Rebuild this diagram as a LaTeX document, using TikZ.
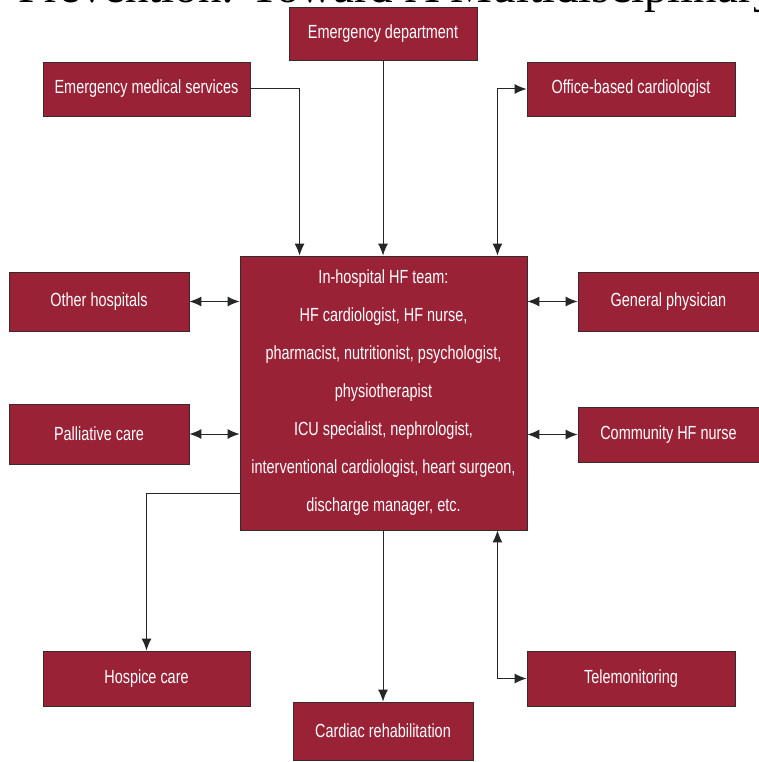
\documentclass[tikz,border=0pt]{standalone}
\usepackage{fontspec}
\setmainfont[FakeStretch=0.76]{Liberation Sans}
\newfontfamily\headfont{Liberation Serif}
\usetikzlibrary{arrows.meta}
\definecolor{hfred}{HTML}{9A2237}
\definecolor{boxedge}{HTML}{3A2A2C}
\tikzset{
  hfbox/.style={rectangle, fill=hfred, draw=boxedge, line width=0.9pt, text=white,
    inner sep=0pt, align=center, font=\fontsize{19}{22}\selectfont},
  conn/.style={line width=1pt, draw=black!85},
  tip/.style={-{Latex[length=12pt,width=10pt]}},
  both/.style={{Latex[length=12pt,width=10pt]}-{Latex[length=12pt,width=10pt]}}
}
\begin{document}
\begin{tikzpicture}[x=1pt,y=-1pt]
\useasboundingbox (0,0) rectangle (759,762);
\clip (0,0) rectangle (759,762);
\fill[white] (0,0) rectangle (759,762);
\node[anchor=base west, font=\headfont\fontsize{47}{50}\selectfont, inner sep=0pt] (head) at (18,3) {Prevention: Toward A Multidisciplinary Approach};

\node[hfbox, minimum width=188pt, minimum height=53pt] (ed) at (383,33.5) {Emergency department};
\node[hfbox, minimum width=207pt, minimum height=54pt] (ems) at (146.5,89) {Emergency medical services};
\node[hfbox, minimum width=208pt, minimum height=54pt] (obc) at (631,89) {Office-based cardiologist};
\node[hfbox, minimum width=287pt, minimum height=274pt, font=\fontsize{19}{38}\selectfont] (ctr) at (383.5,393) {In-hospital HF team:\\HF cardiologist, HF nurse,\\pharmacist, nutritionist, psychologist,\\physiotherapist\\ICU specialist, nephrologist,\\interventional cardiologist, heart surgeon,\\discharge manager, etc.};
\node[hfbox, minimum width=180pt, minimum height=59pt] (oh) at (99,301.5) {Other hospitals};
\node[hfbox, minimum width=181pt, minimum height=59pt] (gp) at (668.5,301.5) {General physician};
\node[hfbox, minimum width=180pt, minimum height=60pt] (pc) at (99,434) {Palliative care};
\node[hfbox, minimum width=181pt, minimum height=55pt] (chn) at (668.5,434.5) {Community HF nurse};
\node[hfbox, minimum width=207pt, minimum height=55pt] (hc) at (146.5,678.5) {Hospice care};
\node[hfbox, minimum width=208pt, minimum height=55pt] (tm) at (631,678.5) {Telemonitoring};
\node[hfbox, minimum width=180pt, minimum height=58pt] (cr) at (383,731) {Cardiac rehabilitation};

\coordinate (ctrTL) at ([xshift=60pt]ctr.north west);
\coordinate (ctrTR) at ([xshift=-30pt]ctr.north east);
\coordinate (ctrBR) at ([xshift=-30pt]ctr.south east);
\coordinate (ctrBL) at ([yshift=37pt]ctr.south west);

\draw[conn,tip] (ems.east) -| (ctrTL);
\draw[conn,tip] (ed.south) -- (ed.south |- ctr.north);
\draw[conn,both] (ctrTR) |- (obc.west);
\draw[conn,both] (oh.east) -- (oh.east -| ctr.west);
\draw[conn,both] (pc.east) -- (pc.east -| ctr.west);
\draw[conn,both] (gp.west) -- (gp.west -| ctr.east);
\draw[conn,both] (chn.west) -- (chn.west -| ctr.east);
\draw[conn,tip] (ctrBL) -| (hc.north);
\draw[conn,tip] (ctr.south -| cr.north) -- (cr.north);
\draw[conn,both] (ctrBR) |- (tm.west);
\end{tikzpicture}
\end{document}
